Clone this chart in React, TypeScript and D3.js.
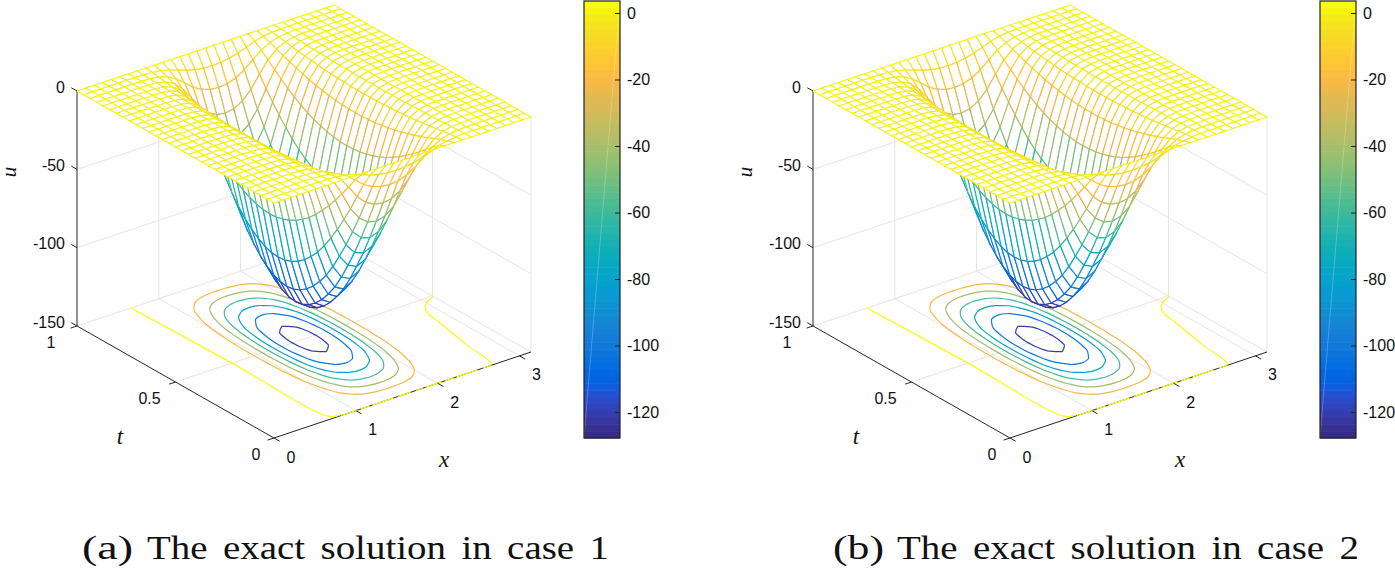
import React, { useEffect, useRef } from 'react';
import * as d3 from 'd3';

// tick labels
const xTicks = [0, 1, 2, 3];
const tTicks = [0, 0.5, 1];
const zTicks = [0, -50, -100, -150];
const barTicks = [0, -20, -40, -60, -80, -100, -120];
const contourLevels = [-120, -100, -80, -60, -40, -20];
const captions = [
  ['(a)', 'The exact solution in case 1'],
  ['(b)', 'The exact solution in case 2'],
];

// Surface values, read by eye off the mesh and contours. The picture looks separable,
// so each node is uPeak * xShape[i] * tShape[j] and not a separately read cell.
const uPeak = -128;
const xShape = [
  0, 0, 0, 0, 0.0002, 0.001, 0.004, 0.016, 0.05, 0.13, 0.28, 0.49, 0.72, 0.88, 0.97, 1,
  0.97, 0.88, 0.72, 0.49, 0.28, 0.13, 0.05, 0.016, 0.004, 0.001, 0.0002, 0, 0, 0, 0,
];
const tShape = [
  0, 0.07, 0.16, 0.27, 0.38, 0.48, 0.575, 0.66, 0.74, 0.81, 0.866, 0.914, 0.951, 0.978, 0.995, 1,
  0.995, 0.978, 0.951, 0.914, 0.866, 0.81, 0.74, 0.66, 0.575, 0.48, 0.38, 0.27, 0.16, 0.07, 0,
];

// the yellow level near zero on the floor
const zeroLeftX = [0.66, 0.69, 0.71, 0.82];
const zeroLeftT = [1, 0.5, 0.022, 0.005];
const zeroFootX = [0.82, 2.65];
const zeroFootT = [0, 0];
const zeroRightX = [2.65, 2.69, 2.743, 2.833, 2.882, 2.934, 3.017, 3.131];
const zeroRightT = [0, 0.02, 0.159, 0.334, 0.42, 0.452, 0.476, 0.493];

const parula = [
  '#352a87', '#363093', '#3637a0', '#353dad', '#3243ba', '#2c4ac7', '#2053d4', '#0f5cdd',
  '#0363e1', '#0268e1', '#046de0', '#0871de', '#0d75dc', '#1079da', '#127dd8', '#1481d6',
  '#1485d4', '#1389d3', '#108ed2', '#0c93d2', '#0998d1', '#079ccf', '#06a0cd', '#06a4ca',
  '#06a7c6', '#07a9c2', '#0aacbe', '#0faeb9', '#15b1b4', '#1db3af', '#25b5a9', '#2eb7a4',
  '#38b99e', '#42bb98', '#4dbc92', '#59bd8c', '#65be86', '#71bf80', '#7cbf7b', '#87bf77',
  '#92bf73', '#9cbf6f', '#a5be6b', '#aebe67', '#b7bd64', '#c0bc60', '#c8bc5d', '#d1bb59',
  '#d9ba56', '#e1b952', '#e9b94e', '#f1b94a', '#f8ba44', '#fdbe3d', '#ffc337', '#fec832',
  '#fccd2e', '#fad32a', '#f7d826', '#f5de21', '#f5e41d', '#f5eb18', '#f6f313', '#f9fb0e',
];

const panelOffsets = [0, 736];
const FONT = '"Liberation Sans", Arial, sans-serif';
const MATH = '"Liberation Serif", serif';

const App = () => {
  const svgRef = useRef<SVGSVGElement>(null);

  useEffect(() => {
    const svg = d3.select(svgRef.current);
    svg.selectAll('*').remove();

    const xNodes = xShape.map((_, i) => (i * Math.PI) / 30);
    const tNodes = tShape.map((_, j) => j / 30);
    const u = tShape.map((tv) => xShape.map((xv) => uPeak * xv * tv));

    // oblique view: each data axis has its own screen-space scale
    const xToH = d3.scaleLinear().domain([0, Math.PI]).range([0, 257]);
    const xToV = d3.scaleLinear().domain([0, Math.PI]).range([0, -86]);
    const tToH = d3.scaleLinear().domain([0, 1]).range([0, -197]);
    const tToV = d3.scaleLinear().domain([0, 1]).range([0, -112]);
    const zToV = d3.scaleLinear().domain([-150, 0]).range([0, -235]);
    const project = (x: number, t: number, z: number): [number, number] => [
      274 + xToH(x) + tToH(t),
      438 + xToV(x) + tToV(t) + zToV(z),
    ];

    const colorOf = d3.scaleQuantize<string>().domain([-127.8, 3.6]).range(parula);
    const barY = d3.scaleLinear().domain([3.6, -127.8]).range([1, 438]);

    const floorLine = d3
      .line<[number, number]>()
      .x((d) => project(d[0], d[1], -150)[0])
      .y((d) => project(d[0], d[1], -150)[1]);

    // d3.contours wants inside = above threshold, so contour -u; vertices sit at index + 0.5
    const flat = u.flat().map((v) => -v);
    const contourGen = d3.contours().size([xShape.length, tShape.length]);
    const xOfCell = d3.scaleLinear().domain([0.5, 30.5]).range([0, Math.PI]);
    const tOfCell = d3.scaleLinear().domain([0.5, 30.5]).range([0, 1]);

    panelOffsets.forEach((dx, panel) => {
      const g = svg.append('g').attr('transform', `translate(${dx},0)`);

      const seg = (
        a: [number, number],
        b: [number, number],
        color: string,
        width = 1,
        parent: any = g
      ) =>
        parent
          .append('line')
          .attr('x1', a[0])
          .attr('y1', a[1])
          .attr('x2', b[0])
          .attr('y2', b[1])
          .attr('stroke', color)
          .attr('stroke-width', width);

      // grid on the floor and the two back walls
      const grid = '#e4e4e4';
      [1, 2, 3, Math.PI].forEach((x) => seg(project(x, 0, -150), project(x, 1, -150), grid));
      [0.5, 1].forEach((t) => seg(project(0, t, -150), project(Math.PI, t, -150), grid));
      [1, 2, 3, Math.PI].forEach((x) => seg(project(x, 1, -150), project(x, 1, 0), grid));
      [0, 0.5].forEach((t) => seg(project(Math.PI, t, -150), project(Math.PI, t, 0), grid));
      [-100, -50].forEach((z) => {
        seg(project(0, 1, z), project(Math.PI, 1, z), grid);
        seg(project(Math.PI, 1, z), project(Math.PI, 0, z), grid);
      });

      // axes
      const axisColor = '#262626';
      seg(project(0, 0, -150), project(Math.PI, 0, -150), axisColor);
      seg(project(0, 0, -150), project(0, 1, -150), axisColor);
      seg(project(0, 1, -150), project(0, 1, 0), axisColor);

      // floor contours; the innermost stays a raw polygon as in the picture
      const ringLine = d3
        .line<[number, number]>()
        .x((d) => project(d[0], d[1], -150)[0])
        .y((d) => project(d[0], d[1], -150)[1]);
      contourLevels.forEach((level) => {
        const shape = contourGen.thresholds([-level])(flat)[0];
        ringLine.curve(level === -120 ? d3.curveLinearClosed : d3.curveCatmullRomClosed);
        shape.coordinates.forEach((poly: number[][][]) => {
          poly.forEach((ring) => {
            g.append('path')
              .attr(
                'd',
                ringLine(
                  ring.slice(0, -1).map((p) => [xOfCell(p[0]), tOfCell(p[1])] as [number, number])
                )
              )
              .attr('fill', 'none')
              .attr('stroke', colorOf(level))
              .attr('stroke-width', 1.2);
          });
        });
      });

      const zeroColor = parula[63];
      const smooth = floorLine.curve(d3.curveCatmullRom);
      g.append('path')
        .attr('d', smooth(zeroLeftX.map((x, i) => [x, zeroLeftT[i]] as [number, number])))
        .attr('fill', 'none')
        .attr('stroke', zeroColor)
        .attr('stroke-width', 1.2);
      g.append('path')
        .attr('d', smooth(zeroRightX.map((x, i) => [x, zeroRightT[i]] as [number, number])))
        .attr('fill', 'none')
        .attr('stroke', zeroColor)
        .attr('stroke-width', 1.2);
      floorLine.curve(d3.curveLinear);
      g.append('path')
        .attr('d', floorLine(zeroFootX.map((x, i) => [x, zeroFootT[i]] as [number, number])))
        .attr('fill', 'none')
        .attr('stroke', zeroColor)
        .attr('stroke-width', 1.2)
        .attr('stroke-dasharray', '17 4 9 3 22 5 13 6 7 3');

      // mesh: painter's order from the far corner, white faces hide what is behind
      const meshWidth = 1.15;
      const mesh = g.append('g').attr('stroke-linecap', 'round');
      for (let j = tNodes.length - 2; j >= 0; j--) {
        for (let i = xNodes.length - 2; i >= 0; i--) {
          const p00 = project(xNodes[i], tNodes[j], u[j][i]);
          const p10 = project(xNodes[i + 1], tNodes[j], u[j][i + 1]);
          const p11 = project(xNodes[i + 1], tNodes[j + 1], u[j + 1][i + 1]);
          const p01 = project(xNodes[i], tNodes[j + 1], u[j + 1][i]);
          mesh
            .append('path')
            .attr('d', `M${p00}L${p10}L${p11}L${p01}Z`)
            .attr('fill', '#fff')
            .attr('stroke', 'none');
          seg(p00, p10, colorOf((u[j][i] + u[j][i + 1]) / 2), meshWidth, mesh);
          seg(p10, p11, colorOf((u[j][i + 1] + u[j + 1][i + 1]) / 2), meshWidth, mesh);
          seg(p11, p01, colorOf((u[j + 1][i + 1] + u[j + 1][i]) / 2), meshWidth, mesh);
          seg(p01, p00, colorOf((u[j + 1][i] + u[j][i]) / 2), meshWidth, mesh);
        }
      }

      // tick marks and labels
      const tickText = (x: number, y: number, s: string, anchor: string) =>
        g
          .append('text')
          .attr('x', x)
          .attr('y', y)
          .attr('text-anchor', anchor)
          .attr('font-family', FONT)
          .attr('font-size', 16)
          .attr('fill', '#111')
          .text(s);

      xTicks.forEach((x) => {
        const p = project(x, 0, -150);
        seg(p, [p[0] + 5.7, p[1] + 3.2], axisColor);
        tickText(p[0] + 17, p[1] + 24.5, String(x), 'middle');
      });
      tTicks.forEach((t) => {
        const p = project(0, t, -150);
        seg(p, [p[0] - 6.4, p[1] + 2.1], axisColor);
        tickText(p[0] - (t === 0 ? 18 : 26), p[1] + 21.5, String(t), 'middle');
      });
      zTicks.forEach((z) => {
        const p = project(0, 1, z);
        seg(p, [p[0] - 5.7, p[1] - 3.2], axisColor);
        tickText(p[0] - 12, p[1] + 1.5, String(z), 'end');
      });

      // axis titles
      const title = (x: number, y: number, s: string, rotate = 0, size = 23) =>
        g
          .append('text')
          .attr('transform', `translate(${x},${y}) rotate(${rotate})`)
          .attr('text-anchor', 'middle')
          .attr('font-family', MATH)
          .attr('font-style', 'italic')
          .attr('font-size', size)
          .attr('fill', '#111')
          .text(s);
      title(16, 172, 'u', -90, 21);
      title(120, 444, 't');
      title(444, 467, 'x');

      // colourbar
      const bar = g.append('g');
      const bandH = (barY(-127.8) - barY(3.6)) / parula.length;
      bar
        .selectAll('rect')
        .data(parula)
        .join('rect')
        .attr('x', 584)
        .attr('y', (_, i) => 1 + i * bandH)
        .attr('width', 36)
        .attr('height', bandH + 0.5)
        .attr('fill', (_, i) => parula[63 - i]);
      bar
        .append('line')
        .attr('x1', 620)
        .attr('y1', 1)
        .attr('x2', 584)
        .attr('y2', 438)
        .attr('stroke', '#fff')
        .attr('stroke-opacity', 0.3)
        .attr('stroke-width', 0.8);
      bar
        .append('rect')
        .attr('x', 584)
        .attr('y', 1)
        .attr('width', 36)
        .attr('height', 437)
        .attr('fill', 'none')
        .attr('stroke', '#222')
        .attr('stroke-width', 1.2);
      const barAxis = bar
        .append('g')
        .attr('transform', 'translate(620,0)')
        .call(
          d3
            .axisRight(barY)
            .tickValues(barTicks)
            .tickSize(-5)
            .tickPadding(7)
            .tickFormat((d) => String(d))
        );
      barAxis.select('.domain').remove();
      barAxis.selectAll('line').attr('stroke', '#222');
      barAxis
        .selectAll('text')
        .attr('font-family', FONT)
        .attr('font-size', 16)
        .attr('fill', '#111');

      // captions set in a stretched serif to stand in for the LaTeX ones
      const [tag, body] = captions[panel];
      const captionFont = (sel: any) =>
        sel
          .attr('y', 559)
          .attr('font-family', MATH)
          .attr('font-size', 34)
          .attr('lengthAdjust', 'spacingAndGlyphs')
          .style('word-spacing', '5px')
          .attr('fill', '#111');
      g.append('text')
        .call(captionFont)
        .attr('x', panel === 0 ? 82 : 97)
        .attr('textLength', 51)
        .text(tag);
      g.append('text')
        .call(captionFont)
        .attr('x', panel === 0 ? 147 : 161)
        .attr('textLength', 462)
        .text(body);
    });
  }, []);

  return (
    <svg
      ref={svgRef}
      width={1395}
      height={569}
      style={{ position: 'absolute', left: 0, top: 0, background: '#fff' }}
    />
  );
};

export default App;
